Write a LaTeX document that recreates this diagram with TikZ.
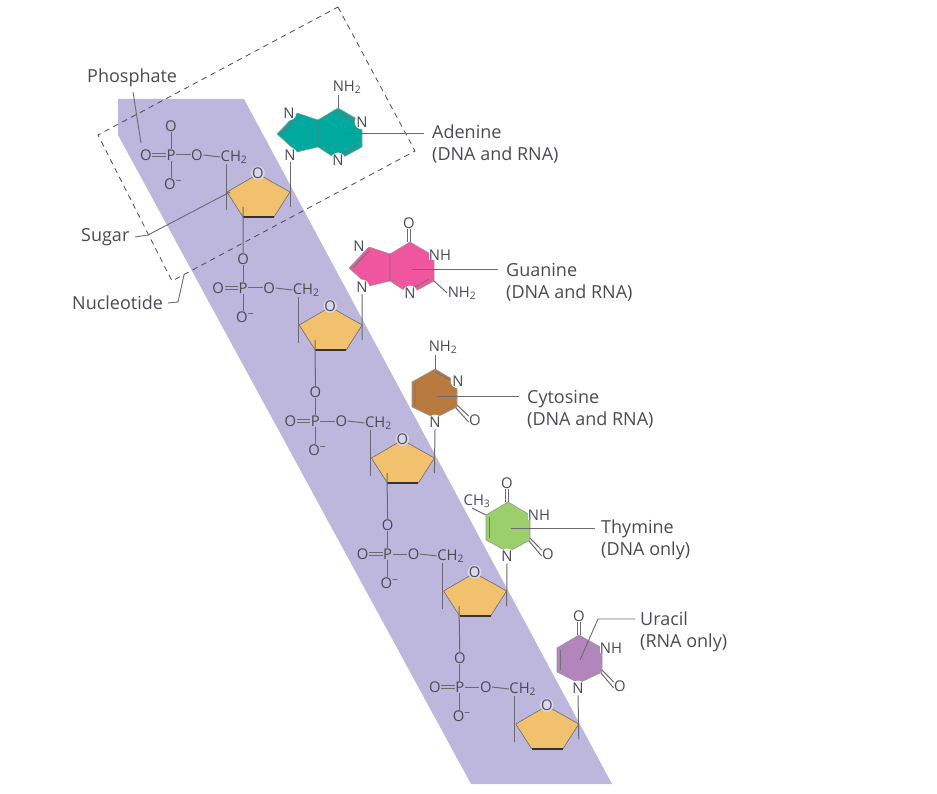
\documentclass[tikz,border=0pt]{standalone}
\usepackage{fontspec}
\setmainfont{Open Sans}
\definecolor{bandc}{HTML}{BDB7DD}
\definecolor{sugarc}{HTML}{F1C16E}
\definecolor{adec}{HTML}{00A99D}
\definecolor{guac}{HTML}{F0569F}
\definecolor{cytc}{HTML}{B87A3F}
\definecolor{thyc}{HTML}{9BCF6C}
\definecolor{urac}{HTML}{B285BC}
\definecolor{inkc}{HTML}{4A4A50}
\definecolor{leadc}{HTML}{6A6A6E}
\tikzset{
  atom/.style={text=inkc,font=\fontsize{14.8}{15}\selectfont,inner sep=0.6pt,outer sep=0pt},
  halo/.style={atom,fill=white,circle,inner sep=-0.2pt},
  sugaro/.style={atom,fill=bandc!55!white,circle,inner sep=-0.8pt},
  bond/.style={draw=leadc,line width=1pt},
  ring/.style={draw=leadc!70!white,line width=0.6pt,line join=round},
  dbl/.style={draw=black!55,line width=0.9pt},
  leadline/.style={draw=leadc,line width=0.9pt},
  lab/.style={text=inkc,font=\fontsize{18}{22}\selectfont,inner sep=0pt,anchor=west,align=left},
  boxline/.style={draw=black!70,line width=0.8pt,dash pattern=on 5.5pt off 4.5pt}
}
\begin{document}
\begin{tikzpicture}[x=1pt,y=-1pt]
\useasboundingbox (0,0) rectangle (937,794);
% band
\fill[bandc] (118,99) -- (244,99) -- (612,784) -- (471,784) -- (118,135) -- cycle;
% nucleotide box
\draw[boxline] (338,7) -- (415,151) -- (172,281) -- (98,135) -- cycle;
% sugar-phosphate units
\foreach \i in {1,...,5}{
 \begin{scope}[shift={({72.2*(\i-1)},{133*(\i-1)})}]
  \fill[sugarc] (227,192) -- (258,174) -- (290,192) -- (274,217) -- (243,217) -- cycle;
  \draw[leadc,line width=0.6pt,line join=round] (243,217) -- (227,192) -- (258,174) -- (290,192) -- (274,217);
  \draw[black!80,line width=1.6pt] (243,217) -- (274,217);
  \node[sugaro] (so\i) at (258,173) {O};
  \node[atom] (p\i) at (171,155) {P};
  \node[atom] (ol\i) at (146,155) {O};
  \node[atom] (or\i) at (197,155) {O};
  \node[atom] (ot\i) at (171,126) {O};
  \node[atom] (ob\i) at (173,184) {O\textsuperscript{−}};
  \node[atom] (ch\i) at (234,157) {CH\textsubscript{2}};
  \coordinate (sl\i) at (226,210);
  \coordinate (sr\i) at (290,207);
  \draw[bond] ([yshift=-1.5pt]ol\i.east) -- ([yshift=-1.5pt]p\i.west);
  \draw[bond] ([yshift=1.5pt]ol\i.east) -- ([yshift=1.5pt]p\i.west);
  \draw[bond] (p\i.east) -- (or\i.west);
  \draw[bond] (or\i.east) -- (ch\i.west);
  \draw[bond] (ot\i.south) -- (p\i.north);
  \draw[bond] (p\i.south) -- (p\i.south |- ob\i.north);
  \draw[bond] (226,164) -- (sl\i);
 \end{scope}
}
% links down the chain
\foreach \i/\j/\x/\y in {1/2/243/207,2/3/315/340,3/4/387/473,4/5/459/606}{
  \coordinate (sb\i) at (\x,\y);
  \draw[bond] (sb\i) -- (ot\j.north);
}
% adenine
\fill[adec] (338,108) -- (362,122) -- (362,147) -- (338,160) -- (318,147) -- (297,152) -- (277,134) -- (297,113) -- (318,120) -- cycle;
\draw[ring] (338,108) -- (362,122) -- (362,147) -- (338,160) -- (318,147) -- (297,152) -- (277,134) -- (297,113) -- (318,120) -- cycle;
\draw[dbl] (318,120) -- (318,147) (338,112) -- (356,123) (338,156) -- (357,145) (281,134) -- (297,117);
\node[halo] (a1) at (289,113) {N};
\node[halo] (a2) at (362,122) {N};
\node[halo] (a3) at (338,160) {N};
\node[halo] (a4) at (290,155) {N};
\node[atom] (a5) at (347,87) {NH\textsubscript{2}};
\draw[bond] (338,95) -- (338,108);
\draw[bond] (a4.south) -- (sr1);
% guanine
\begin{scope}[shift={(72,134)}]
\fill[guac] (338,108) -- (362,122) -- (362,147) -- (338,160) -- (318,147) -- (297,152) -- (277,134) -- (297,113) -- (318,120) -- cycle;
\draw[ring] (338,108) -- (362,122) -- (362,147) -- (338,160) -- (318,147) -- (297,152) -- (277,134) -- (297,113) -- (318,120) -- cycle;
\draw[dbl] (318,120) -- (318,147) (338,156) -- (357,145) (281,134) -- (297,117);
\node[halo] (g1) at (287,112) {N};
\node[atom,fill=white,inner sep=0pt] (g2) at (368,121) {NH};
\node[halo] (g3) at (338,159) {N};
\node[halo] (g4) at (290,153) {N};
\node[atom] (g5) at (337,89) {O};
\node[atom] (g6) at (390,159) {NH\textsubscript{2}};
\draw[bond] ([xshift=-1.3pt]g5.south) -- (335.7,108);
\draw[bond] ([xshift=1.3pt]g5.south) -- (338.3,108);
\draw[bond] (362,147) -- (g6.west);
\draw[bond] (g4.south) -- (sr2);
\end{scope}
% cytosine
\fill[cytc] (435,369) -- (457,382) -- (457,407) -- (435,418) -- (412,407) -- (412,382) -- cycle;
\draw[ring] (435,369) -- (457,382) -- (457,407) -- (435,418) -- (412,407) -- (412,382) -- cycle;
\draw[dbl] (415,383) -- (415,406) (436,372) -- (452,381);
\node[halo] (c1) at (458,381) {N};
\node[halo] (c2) at (435,422) {N};
\node[atom] (c3) at (443,347) {NH\textsubscript{2}};
\node[atom] (c4) at (475,420) {O};
\draw[bond] (435,355) -- (435,369);
\draw[bond] (457,405) -- ([yshift=-2pt]c4.north west);
\draw[bond] (456,408) -- ([yshift=-2pt]c4.west);
\draw[bond] (c2.south) -- (sr3);
% thymine
\fill[thyc] (508,502) -- (530,515) -- (530,540) -- (508,552) -- (486,540) -- (486,515) -- cycle;
\draw[ring] (508,502) -- (530,515) -- (530,540) -- (508,552) -- (486,540) -- (486,515) -- cycle;
\draw[dbl] (489,517) -- (489,538);
\node[atom,fill=white,inner sep=0pt] (t1) at (539,515) {NH};
\node[halo] (t2) at (507,556) {N};
\node[atom] (t3) at (507,483) {O};
\node[atom] (t4) at (548,554) {O};
\node[atom] (t5) at (477,501) {CH\textsubscript{3}};
\draw[bond] ([xshift=-1.3pt]t3.south) -- (505.7,502);
\draw[bond] ([xshift=1.3pt]t3.south) -- (508.3,502);
\draw[bond] (530,538) -- ([yshift=-2pt]t4.north west);
\draw[bond] (529,541) -- ([yshift=-2pt]t4.west);
\draw[bond] (472,508) -- (486,515);
\draw[bond] (t2.south) -- (sr4);
% uracil
\fill[urac] (579,635) -- (602,648) -- (602,672) -- (579,683) -- (557,672) -- (557,648) -- cycle;
\draw[ring] (579,635) -- (602,648) -- (602,672) -- (579,683) -- (557,672) -- (557,648) -- cycle;
\draw[dbl] (560,650) -- (560,670);
\node[atom,fill=white,inner sep=0pt] (u1) at (611,648) {NH};
\node[halo] (u2) at (578,688) {N};
\node[atom] (u3) at (579,616) {O};
\node[atom] (u4) at (620,686) {O};
\draw[bond] ([xshift=-1.3pt]u3.south) -- (577.7,635);
\draw[bond] ([xshift=1.3pt]u3.south) -- (580.3,635);
\draw[bond] (602,670) -- ([yshift=-2pt]u4.north west);
\draw[bond] (601,673) -- ([yshift=-2pt]u4.west);
\draw[bond] (u2.south) -- (sr5);
% labels
\node[lab] (phos) at (87,77.5) {Phosphate};
\node[lab] (sugar) at (81,237) {Sugar};
\node[lab] (nucl) at (72,303) {Nucleotide};
\node[lab] (ade) at (432,144.5) {Adenine\\(DNA and RNA)};
\node[lab] (gua) at (506,282.5) {Guanine\\(DNA and RNA)};
\node[lab] (cyt) at (527,409.5) {Cytosine\\(DNA and RNA)};
\node[lab] (thy) at (601,539.5) {Thymine\\(DNA only)};
\node[lab] (ura) at (640,631.5) {Uracil\\(RNA only)};
% leader lines
\coordinate (lp) at (141,143);
\coordinate (ls) at (230,192);
\coordinate (ln) at (184,275);
\coordinate (la) at (343,133);
\coordinate (lg) at (412,269);
\coordinate (lc) at (437,396);
\coordinate (lt) at (511,528);
\coordinate (lu) at (580,660);
\draw[leadline] (133,92) -- (lp);
\draw[leadline] (135,237) -- (148,235) -- (ls);
\draw[leadline] (168,303) -- (178,302) -- (ln);
\draw[leadline] (la) -- (424,133);
\draw[leadline] (lg) -- (498,269);
\draw[leadline] (lc) -- (519,396);
\draw[leadline] (lt) -- (595,528);
\draw[leadline] (lu) -- (598,619) -- (635,619);
\end{tikzpicture}
\end{document}
